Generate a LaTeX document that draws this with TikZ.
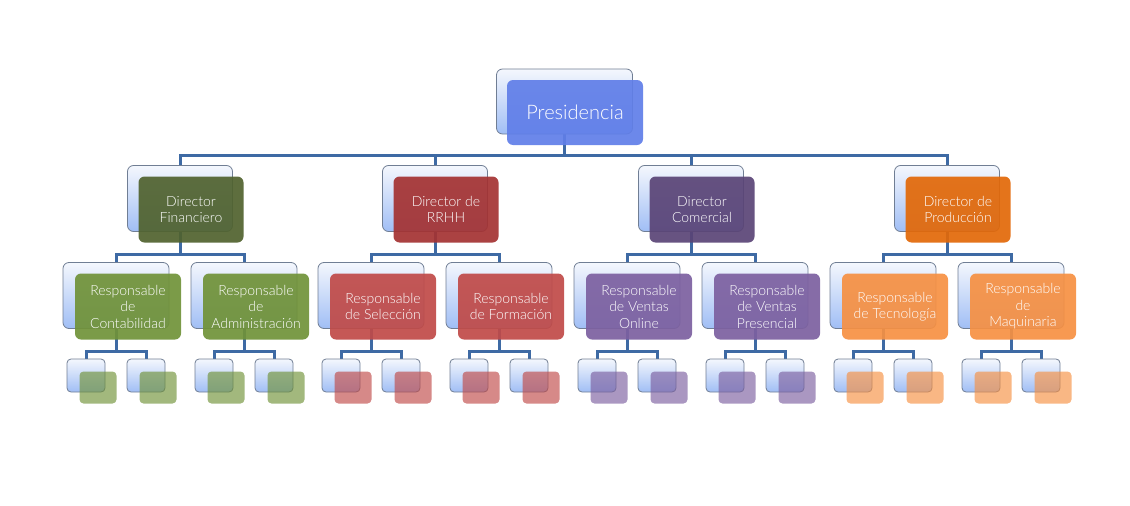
\documentclass[tikz,border=0pt]{standalone}
\usepackage{fontspec}
\setmainfont{Lato Light}
\usetikzlibrary{calc}
\pgfdeclarelayer{bg}
\pgfsetlayers{bg,main}
\definecolor{connc}{RGB}{62,106,164}
\definecolor{bkline}{RGB}{112,126,148}
\definecolor{bktop}{RGB}{244,247,253}
\definecolor{bkbot}{RGB}{160,190,245}
\definecolor{presc}{RGB}{96,126,232}
\definecolor{dgreen}{RGB}{80,98,46}
\definecolor{mgreen}{RGB}{112,146,56}
\definecolor{dred}{RGB}{164,50,50}
\definecolor{mred}{RGB}{192,74,72}
\definecolor{dpurple}{RGB}{90,68,118}
\definecolor{mpurple}{RGB}{124,96,160}
\definecolor{dorange}{RGB}{226,104,8}
\definecolor{morange}{RGB}{246,144,66}
\begin{document}
\begin{tikzpicture}[x=1pt,y=-1pt,
  conn/.style={draw=connc,line width=3pt},
  backbox/.style={draw=bkline,line width=0.8pt,rounded corners=6pt,top color=bktop,bottom color=bkbot,inner sep=0pt},
  frontbox/.style={fill=#1,fill opacity=0.92,text opacity=1,rounded corners=6pt,inner sep=0pt,text=white,align=center},
  smallback/.style={draw=bkline,line width=0.8pt,rounded corners=4pt,top color=bktop,bottom color=bkbot,inner sep=0pt,minimum width=38pt,minimum height=33pt},
  smallfront/.style={fill=#1,fill opacity=0.65,rounded corners=4pt,inner sep=0pt,minimum width=37pt,minimum height=32pt},
  presbox/.style={minimum width=136pt,minimum height=65pt},
  dirbox/.style={minimum width=105pt,minimum height=66pt},
  respbox/.style={minimum width=106pt,minimum height=66pt},
  big/.style={font=\fontsize{20}{24}\selectfont},
  norm/.style={font=\fontsize{14}{16.5}\selectfont}
]
\useasboundingbox (0,0) rectangle (1130,506);
% Presidencia
\node[backbox,presbox] (pb) at (564.5,101.5) {};
\node[frontbox=presc,presbox,big] (pf) at (575,112.5) {Presidencia};
% Directors
\foreach \i/\x/\c/\t in {1/180/dgreen/{Director\\Financiero},2/435/dred/{Director de\\RRHH},3/691/dpurple/{Director\\Comercial},4/947/dorange/{Director de\\Producción}}{
  \node[backbox,dirbox] (d\i b) at (\x,198.5) {};
  \node[frontbox=\c,dirbox,norm] (d\i f) at (\x+11,209.5) {\t};
  \begin{pgfonlayer}{bg}
    \draw[conn] (pb.center) -- (pb.center |- 0,155) -| (d\i b.north);
  \end{pgfonlayer}
}
% Responsables
\foreach \i/\j/\x/\c/\t in {
  1/1/116/mgreen/{Responsable\\de\\Contabilidad},
  1/2/244/mgreen/{Responsable\\de\\Administración},
  2/1/371/mred/{Responsable\\de Selección},
  2/2/499/mred/{Responsable\\de Formación},
  3/1/627/mpurple/{Responsable\\de Ventas\\Online},
  3/2/755/mpurple/{Responsable\\de Ventas\\Presencial},
  4/1/883/morange/{Responsable\\de Tecnología},
  4/2/1011/morange/{Responsable\\de\\Maquinaria}}{
  \node[backbox,respbox] (r\i\j b) at (\x,295.5) {};
  \node[frontbox=\c,respbox,norm] (r\i\j f) at (\x+12,306.5) {\t};
  \node[smallback] (s\i\j ab) at (\x-30,375.5) {};
  \node[smallfront=\c] (s\i\j af) at (\x-18,387.5) {};
  \node[smallback] (s\i\j bb) at (\x+30,375.5) {};
  \node[smallfront=\c] (s\i\j bf) at (\x+42,387.5) {};
  \begin{pgfonlayer}{bg}
    \draw[conn] (d\i b.center) -- (d\i b.center |- 0,254) -| (r\i\j b.north);
    \draw[conn] (r\i\j b.center) -- (r\i\j b.center |- 0,351.5) -| (s\i\j ab.north);
    \draw[conn] (r\i\j b.center |- 0,351.5) -| (s\i\j bb.north);
  \end{pgfonlayer}
}
\end{tikzpicture}
\end{document}
